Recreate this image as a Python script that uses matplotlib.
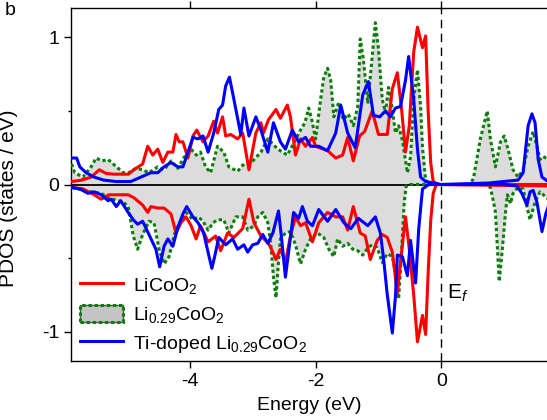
import matplotlib
matplotlib.use("Agg")
import matplotlib.pyplot as plt
from matplotlib.lines import Line2D
from matplotlib.patches import Patch
import numpy as np

plt.rcParams['font.family'] = ['Liberation Sans', 'DejaVu Sans']
plt.rcParams['mathtext.fontset'] = 'custom'
plt.rcParams['mathtext.rm'] = 'Liberation Sans'
plt.rcParams['mathtext.it'] = 'Liberation Sans:italic'

# ---- PDOS data: energy (eV) and states/eV, spin up (+) and spin down (-) ----
red_up_E = [-5.88, -5.72, -5.57, -5.44, -5.33, -5.20, -4.98, -4.89, -4.75, -4.67, -4.59, -4.51,
            -4.43, -4.35, -4.27, -4.22, -4.17, -4.11, -4.03, -3.95, -3.89, -3.79, -3.71, -3.62,
            -3.56, -3.48, -3.43, -3.35, -3.24, -3.16, -3.06, -2.95, -2.87, -2.83, -2.75, -2.63,
            -2.56, -2.45, -2.40, -2.32, -2.24, -2.16, -2.05, -2.00, -1.81, -1.68, -1.57, -1.49,
            -1.40, -1.30, -1.22, -1.10, -1.00, -0.86, -0.78, -0.70, -0.63, -0.57, -0.51, -0.44,
            -0.38, -0.30, -0.25, -0.21, -0.17, -0.13, -0.05, 1.70]
red_up_V = [0.02, 0.03, 0.05, 0.10, 0.075, 0.07, 0.07, 0.10, 0.14, 0.26, 0.20, 0.24,
            0.15, 0.22, 0.22, 0.34, 0.29, 0.29, 0.18, 0.33, 0.37, 0.29, 0.33, 0.43,
            0.35, 0.46, 0.33, 0.34, 0.31, 0.35, 0.10, 0.35, 0.42, 0.35, 0.44, 0.51,
            0.45, 0.54, 0.46, 0.20, 0.31, 0.26, 0.32, 0.26, 0.23, 0.18, 0.20, 0.32,
            0.16, 0.33, 0.36, 0.50, 0.34, 0.34, 0.65, 0.76, 0.50, 0.22, 0.40, 0.90,
            1.07, 0.93, 1.01, 0.50, 0.15, 0.02, 0.0, 0.0]

red_dn_E = [-5.88, -5.70, -5.52, -5.41, -5.29, -5.13, -4.98, -4.89, -4.75, -4.67, -4.62, -4.51,
            -4.41, -4.30, -4.22, -4.14, -4.06, -3.98, -3.90, -3.83, -3.71, -3.59, -3.51, -3.40,
            -3.30, -3.16, -3.06, -2.98, -2.87, -2.75, -2.68, -2.63, -2.56, -2.48, -2.40, -2.32,
            -2.24, -2.16, -2.05, -1.95, -1.81, -1.68, -1.57, -1.49, -1.40, -1.29, -1.21, -1.13,
            -1.02, -0.94, -0.86, -0.78, -0.70, -0.63, -0.57, -0.51, -0.44, -0.38, -0.30, -0.25,
            -0.21, -0.17, -0.13, -0.08, 1.70]
red_dn_V = [-0.02, -0.03, -0.07, -0.10, -0.07, -0.07, -0.07, -0.09, -0.14, -0.19, -0.15, -0.16,
            -0.16, -0.20, -0.33, -0.26, -0.22, -0.28, -0.37, -0.28, -0.39, -0.35, -0.45, -0.33,
            -0.36, -0.30, -0.10, -0.26, -0.35, -0.40, -0.46, -0.51, -0.44, -0.53, -0.35, -0.22,
            -0.28, -0.26, -0.39, -0.26, -0.19, -0.22, -0.22, -0.31, -0.15, -0.33, -0.35, -0.51,
            -0.38, -0.34, -0.36, -0.46, -0.74, -0.45, -0.22, -0.44, -0.75, -1.07, -0.89, -1.02,
            -0.60, -0.25, -0.06, 0.0, -0.01]

grn_up_E = [-5.88, -5.83, -5.70, -5.57, -5.49, -5.40, -5.30, -5.14, -5.06, -4.97, -4.86, -4.75,
            -4.65, -4.51, -4.41, -4.30, -4.19, -4.10, -3.98, -3.90, -3.83, -3.75, -3.67, -3.56,
            -3.46, -3.38, -3.24, -3.14, -3.00, -2.87, -2.76, -2.60, -2.45, -2.35, -2.24, -2.17,
            -2.11, -2.06, -2.00, -1.92, -1.87, -1.81, -1.76, -1.71, -1.63, -1.56, -1.48, -1.40,
            -1.33, -1.29, -1.24, -1.17, -1.10, -1.05, -1.00, -0.94, -0.89, -0.84, -0.78, -0.73,
            -0.68, -0.62, -0.54, -0.49, -0.44, -0.38, -0.33, -0.30, -0.25, -0.17, 0.45, 0.51,
            0.62, 0.73, 0.78, 0.86, 0.94, 1.00, 1.06, 1.14, 1.22, 1.30, 1.38, 1.46,
            1.52, 1.57, 1.62, 1.70]
grn_up_V = [0.14, 0.08, 0.05, 0.12, 0.18, 0.16, 0.17, 0.11, 0.08, 0.08, 0.11, 0.10,
            0.08, 0.12, 0.10, 0.16, 0.11, 0.18, 0.24, 0.20, 0.22, 0.12, 0.08, 0.26,
            0.22, 0.12, 0.09, 0.14, 0.16, 0.22, 0.31, 0.24, 0.20, 0.28, 0.37, 0.42,
            0.52, 0.44, 0.31, 0.58, 0.73, 0.79, 0.71, 0.46, 0.56, 0.44, 0.48, 0.40,
            0.53, 0.99, 0.85, 0.55, 0.87, 1.10, 0.92, 0.58, 0.49, 0.66, 0.51, 0.35,
            0.40, 0.30, 0.08, 0.19, 0.58, 0.78, 0.53, 0.25, 0.03, 0.0, 0.0, 0.04,
            0.31, 0.50, 0.31, 0.12, 0.29, 0.33, 0.24, 0.10, 0.05, 0.10, 0.26, 0.36,
            0.26, 0.17, 0.19, 0.17]

grn_dn_E = [-5.88, -5.57, -5.41, -5.30, -5.14, -5.06, -4.98, -4.90, -4.83, -4.75, -4.65, -4.57,
            -4.49, -4.41, -4.33, -4.24, -4.16, -4.06, -3.95, -3.87, -3.79, -3.71, -3.63, -3.56,
            -3.46, -3.38, -3.27, -3.16, -3.08, -2.98, -2.92, -2.84, -2.76, -2.71, -2.67, -2.63,
            -2.60, -2.56, -2.48, -2.40, -2.32, -2.24, -2.16, -2.08, -1.97, -1.87, -1.79, -1.71,
            -1.65, -1.57, -1.49, -1.41, -1.33, -1.25, -1.17, -1.10, -1.02, -0.94, -0.86, -0.78,
            -0.73, -0.68, -0.65, -0.62, -0.59, -0.56, -0.50, 0.70, 0.78, 0.83, 0.86, 0.89,
            0.92, 0.97, 1.02, 1.05, 1.10, 1.14, 1.22, 1.30, 1.36, 1.41, 1.49, 1.57, 1.70]
grn_dn_V = [-0.02, -0.05, -0.06, -0.09, -0.11, -0.12, -0.15, -0.35, -0.44, -0.34, -0.25, -0.26,
            -0.44, -0.54, -0.49, -0.33, -0.26, -0.19, -0.24, -0.22, -0.25, -0.31, -0.26, -0.24,
            -0.24, -0.33, -0.22, -0.22, -0.31, -0.28, -0.22, -0.19, -0.26, -0.42, -0.63, -0.77,
            -0.58, -0.37, -0.33, -0.32, -0.41, -0.54, -0.44, -0.37, -0.33, -0.36, -0.44, -0.49,
            -0.37, -0.42, -0.40, -0.44, -0.45, -0.48, -0.43, -0.41, -0.43, -0.53, -0.47, -0.49,
            -0.60, -0.78, -0.58, -0.35, -0.12, -0.01, 0.0, 0.0, -0.02, -0.12, -0.19, -0.42,
            -0.66, -0.44, -0.19, -0.07, -0.13, -0.06, -0.02, -0.03, -0.15, -0.24, -0.12, -0.05, -0.10]

blu_up_E = [-5.88, -5.80, -5.75, -5.65, -5.52, -5.37, -5.17, -4.94, -4.78, -4.62, -4.51, -4.41,
            -4.30, -4.19, -4.11, -4.03, -3.95, -3.87, -3.79, -3.71, -3.62, -3.54, -3.48, -3.43,
            -3.37, -3.30, -3.19, -3.14, -3.06, -2.95, -2.87, -2.76, -2.67, -2.56, -2.48, -2.37,
            -2.27, -2.16, -2.08, -1.95, -1.81, -1.68, -1.60, -1.49, -1.37, -1.25, -1.16, -1.08,
            -0.98, -0.89, -0.81, -0.73, -0.65, -0.57, -0.52, -0.44, -0.38, -0.33, -0.25, 0.0,
            0.75, 1.22, 1.30, 1.38, 1.44, 1.49, 1.54, 1.60, 1.70]
blu_up_V = [0.18, 0.18, 0.12, 0.08, 0.05, 0.03, 0.02, 0.02, 0.05, 0.08, 0.08, 0.12,
            0.15, 0.12, 0.12, 0.22, 0.32, 0.31, 0.33, 0.22, 0.35, 0.51, 0.54, 0.67,
            0.73, 0.58, 0.34, 0.52, 0.33, 0.46, 0.37, 0.22, 0.42, 0.29, 0.24, 0.37,
            0.29, 0.32, 0.26, 0.26, 0.23, 0.35, 0.54, 0.35, 0.25, 0.61, 0.70, 0.47,
            0.46, 0.50, 0.46, 0.52, 0.53, 0.71, 0.87, 0.58, 0.24, 0.05, 0.02, 0.0,
            0.01, 0.03, 0.08, 0.40, 0.48, 0.42, 0.17, 0.05, 0.02]

blu_dn_E = [-5.88, -5.75, -5.62, -5.52, -5.41, -5.30, -5.25, -5.17, -5.10, -4.98, -4.90, -4.83,
            -4.75, -4.65, -4.54, -4.48, -4.41, -4.35, -4.27, -4.19, -4.11, -4.05, -3.95, -3.87,
            -3.78, -3.70, -3.65, -3.60, -3.54, -3.43, -3.32, -3.24, -3.14, -3.08, -3.00, -2.92,
            -2.84, -2.76, -2.68, -2.59, -2.54, -2.48, -2.40, -2.35, -2.27, -2.21, -2.13, -2.05,
            -1.95, -1.81, -1.68, -1.55, -1.44, -1.32, -1.17, -1.05, -0.97, -0.92, -0.86, -0.78,
            -0.73, -0.70, -0.62, -0.54, -0.49, -0.41, -0.36, -0.30, -0.20, 1.00, 1.20, 1.28,
            1.36, 1.41, 1.46, 1.52, 1.60, 1.66, 1.70]
blu_dn_V = [-0.02, -0.03, -0.06, -0.05, -0.07, -0.11, -0.10, -0.15, -0.11, -0.19, -0.24, -0.27,
            -0.25, -0.34, -0.44, -0.56, -0.42, -0.37, -0.42, -0.29, -0.20, -0.15, -0.22, -0.26,
            -0.33, -0.48, -0.57, -0.48, -0.36, -0.41, -0.37, -0.44, -0.41, -0.46, -0.41, -0.40,
            -0.34, -0.40, -0.33, -0.18, -0.37, -0.63, -0.36, -0.19, -0.23, -0.15, -0.25, -0.28,
            -0.17, -0.25, -0.17, -0.26, -0.30, -0.23, -0.28, -0.22, -0.33, -0.50, -0.75, -1.01,
            -0.76, -0.48, -0.49, -0.62, -0.38, -0.67, -0.30, -0.03, 0.0, 0.0, -0.01, -0.06,
            -0.14, -0.05, -0.04, -0.12, -0.32, -0.20, -0.15]

labels = [r'LiCoO$_{2}$', r'Li$_{0.29}$CoO$_{2}$', r'Ti-doped Li$_{0.29}$CoO$_{2}$']
xticks = [-4, -2, 0]
yticks = [-1, 0, 1]

RED = '#ff0000'
BLUE = '#0000ff'
GREEN = '#0a7d0a'
FILL = '#dcdcdc'
LW = 2.2
DOT = (0, (1.1, 0.9))

fig = plt.figure(figsize=(5.47, 4.2), dpi=100)
ax = fig.add_axes([71 / 547, 59 / 420, 476 / 547, 353 / 420])

# shaded Li0.29CoO2 DOS
ax.fill_between(grn_up_E, 0, grn_up_V, color=FILL, lw=0, zorder=1)
ax.fill_between(grn_dn_E, 0, grn_dn_V, color=FILL, lw=0, zorder=1)

ax.axhline(0, color='black', lw=1.3, zorder=2)
ax.axvline(0, color='black', lw=1.0, ls=(0, (6, 4)), zorder=2)

for E, V in ((grn_up_E, grn_up_V), (grn_dn_E, grn_dn_V)):
    ax.plot(E, V, color=GREEN, lw=LW, ls=DOT, zorder=3)
for E, V in ((red_up_E, red_up_V), (red_dn_E, red_dn_V)):
    ax.plot(E, V, color=RED, lw=LW, zorder=4, solid_joinstyle='round')
for E, V in ((blu_up_E, blu_up_V), (blu_dn_E, blu_dn_V)):
    ax.plot(E, V, color=BLUE, lw=LW, zorder=5, solid_joinstyle='round')

ax.set_xlim(-5.89, 1.68)
ax.set_ylim(-1.2, 1.2)
ax.set_xticks(xticks)
ax.set_xticklabels([str(t) for t in xticks])
ax.set_yticks(yticks)
ax.set_yticklabels([str(t) for t in yticks])
ax.set_yticks([-0.5, 0.5], minor=True)
ax.tick_params(axis='both', which='major', direction='out', length=5, width=1, labelsize=14)
ax.tick_params(axis='y', which='minor', direction='out', length=2.5, width=1)
ax.tick_params(axis='x', top=True, which='major')
ax.spines['right'].set_visible(False)
for s in ('left', 'bottom', 'top'):
    ax.spines[s].set_linewidth(1.0)

ax.set_xlabel('Energy (eV)', fontsize=14, labelpad=5)
ax.set_ylabel('PDOS (states / eV)', fontsize=15, labelpad=10)
ax.yaxis.set_label_coords(-0.112, 0.46)

ax.text(0.09, -0.74, r'E$_{\mathit{f}}$', fontsize=15, va='center', ha='left')
fig.text(5 / 547, 1 - 2 / 420, 'b', fontsize=14, va='top', ha='left')

handles = [
    Line2D([], [], color=RED, lw=LW),
    (Patch(facecolor='#c4c4c4', edgecolor='#555555', lw=1.0),
     Patch(facecolor='none', edgecolor=GREEN, lw=LW, ls=DOT)),
    Line2D([], [], color=BLUE, lw=LW),
]
ax.legend(handles, labels, loc='lower left', bbox_to_anchor=(-0.006, -0.016), frameon=False,
          fontsize=14, handlelength=2.2, handleheight=1.0, labelspacing=0.45,
          handletextpad=0.55, borderaxespad=0.2)

fig.savefig('out.png', dpi=100)
